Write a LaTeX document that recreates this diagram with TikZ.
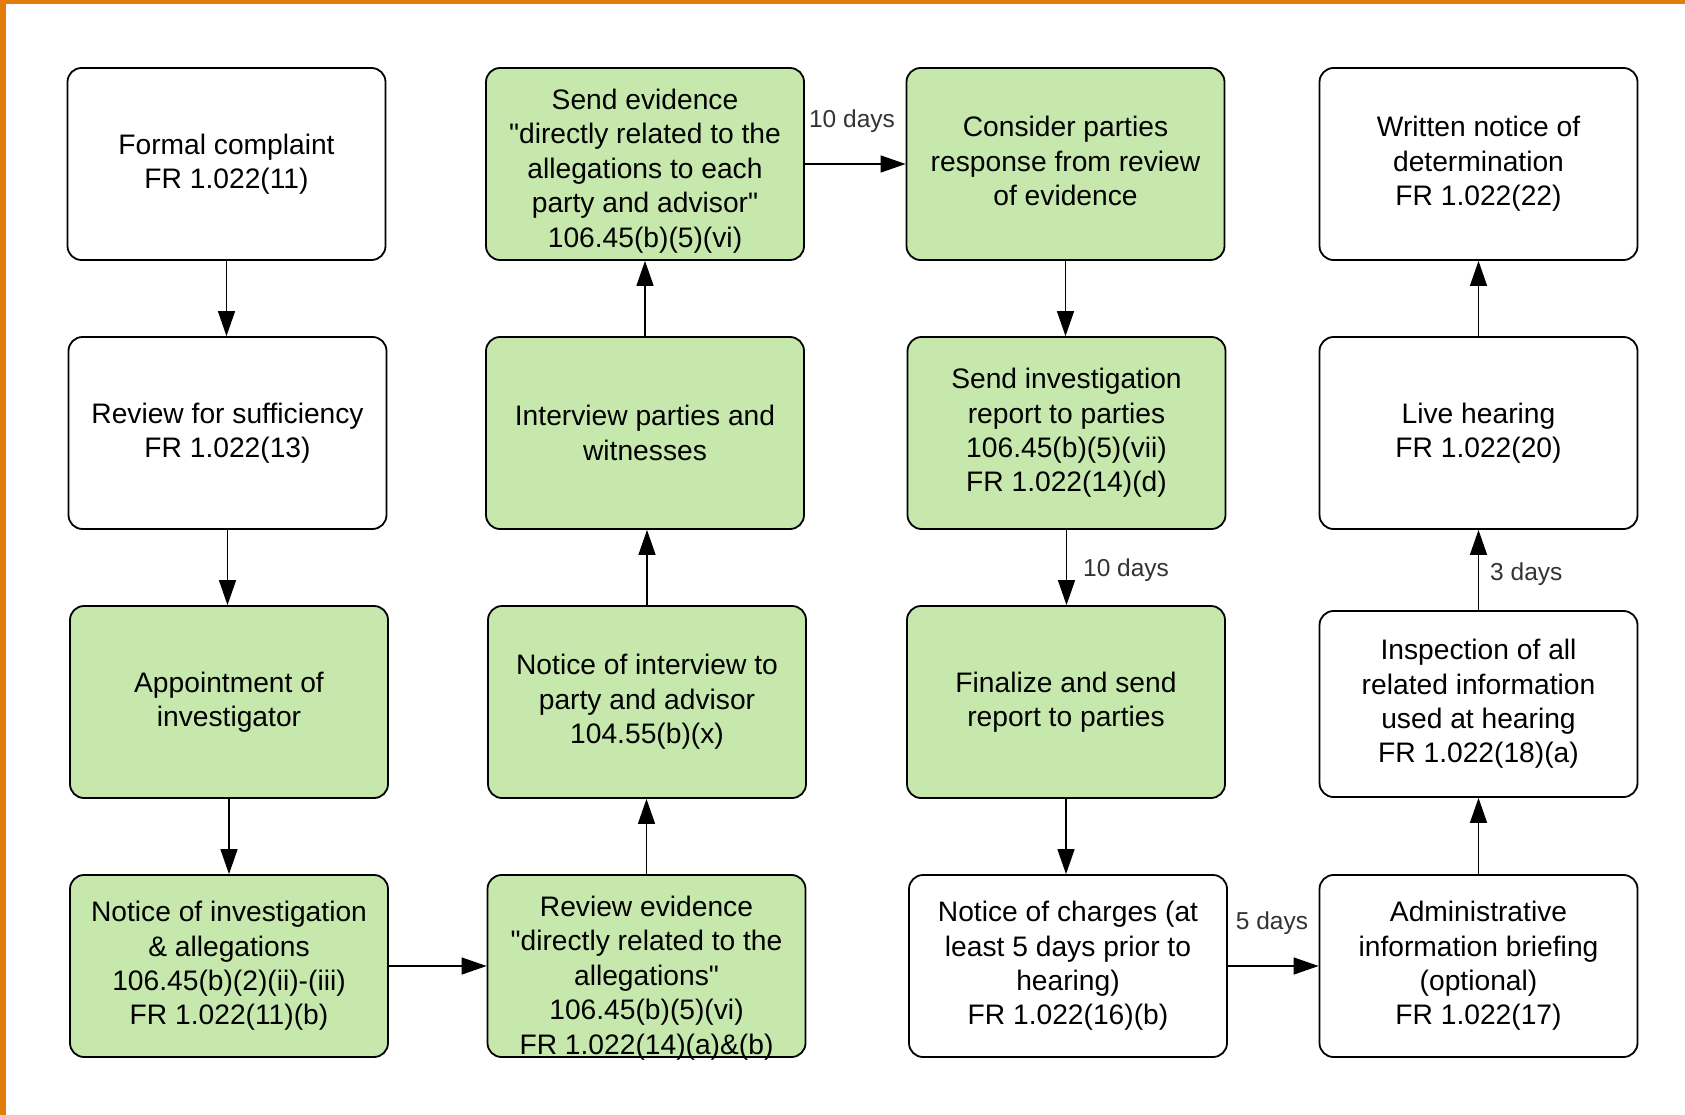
\documentclass[tikz,border=0pt]{standalone}
\usepackage{fontspec}
\setmainfont{Liberation Sans}[Ligatures=TeXOff]
\usetikzlibrary{arrows.meta}
\definecolor{boxgreen}{HTML}{C6E8AC}
\definecolor{frameorange}{HTML}{E27D0C}
\definecolor{lblgray}{HTML}{333333}
\tikzset{
  box/.style={draw=black, rounded corners=14pt, line width=1.8pt,
    minimum width=318pt, minimum height=192pt, align=center, inner sep=0pt,
    font=\fontsize{28.2}{34.4}\selectfont},
  gbox/.style={box, fill=boxgreen},
  wbox/.style={box, fill=white},
  txt/.style={align=center, inner sep=0pt, font=\fontsize{28.2}{34.4}\selectfont},
  conn/.style={line width=1.4pt, -{Triangle[length=25pt,width=17pt]}},
  lbl/.style={text=lblgray, font=\fontsize{24.5}{28}\selectfont, inner sep=0pt}
}
\begin{document}
\begin{tikzpicture}[x=1pt,y=-1pt]
\useasboundingbox (0,0) rectangle (1685,1115);
\fill[white] (0,0) rectangle (1685,1115);
\fill[frameorange] (0,0) rectangle (1685,4.5);
\fill[frameorange] (0,0) rectangle (5.5,1115);

% column 1
\node[wbox] (c1r1) at (226.5,164) {Formal complaint\\FR 1.022(11)};
\node[wbox] (c1r2) at (227.5,433) {Review for sufficiency\\FR 1.022(13)};
\node[gbox] (c1r3) at (229,702) {Appointment of\\investigator};
\node[gbox, minimum height=182pt] (c1r4) at (229,966) {Notice of investigation\\\& allegations\\106.45(b)(2)(ii)-(iii)\\FR 1.022(11)(b)};

% column 2
\node[gbox] (c2r1) at (645,164) {};
\node[txt, yshift=-7pt] (t2r1) at (c2r1) {Send evidence\\"directly related to the\\allegations to each\\party and advisor"\\106.45(b)(5)(vi)};
\node[gbox] (c2r2) at (645,433) {Interview parties and\\witnesses};
\node[gbox] (c2r3) at (647,702) {Notice of interview to\\party and advisor\\104.55(b)(x)};
\node[gbox, minimum height=182pt] (c2r4) at (646.5,966) {};
\node[txt, yshift=-12pt] (t2r4) at (c2r4) {Review evidence\\"directly related to the\\allegations"\\106.45(b)(5)(vi)\\FR 1.022(14)(a)\&(b)};

% column 3
\node[gbox] (c3r1) at (1065.5,164) {};
\node[txt, yshift=3pt] (t3r1) at (c3r1) {Consider parties\\response from review\\of evidence};
\node[gbox] (c3r2) at (1066.5,433) {Send investigation\\report to parties\\106.45(b)(5)(vii)\\FR 1.022(14)(d)};
\node[gbox] (c3r3) at (1066,702) {Finalize and send\\report to parties};
\node[wbox, minimum height=182pt] (c3r4) at (1068,966) {Notice of charges (at\\least 5 days prior to\\hearing)\\FR 1.022(16)(b)};

% column 4
\node[wbox] (c4r1) at (1478.5,164) {Written notice of\\determination\\FR 1.022(22)};
\node[wbox] (c4r2) at (1478.5,433) {Live hearing\\FR 1.022(20)};
\node[wbox, minimum height=186pt] (c4r3) at (1478.5,704) {Inspection of all\\related information\\used at hearing\\FR 1.022(18)(a)};
\node[wbox, minimum height=182pt] (c4r4) at (1478.5,966) {Administrative\\information briefing\\(optional)\\FR 1.022(17)};

% connectors column 1 (down)
\draw[conn] (c1r1.south) -- (c1r2.north -| c1r1.south);
\draw[conn] (c1r2.south) -- (c1r3.north -| c1r2.south);
\draw[conn] (c1r3.south) -- (c1r4.north -| c1r3.south);
% row 4 right
\draw[conn] (c1r4.east) -- (c2r4.west |- c1r4.east);
% column 2 (up)
\draw[conn] (c2r4.north) -- (c2r3.south -| c2r4.north);
\draw[conn] (c2r3.north) -- (c2r2.south -| c2r3.north);
\draw[conn] (c2r2.north) -- (c2r1.south -| c2r2.north);
% row 1 right
\draw[conn] (c2r1.east) -- (c3r1.west |- c2r1.east);
% column 3 (down)
\draw[conn] (c3r1.south) -- (c3r2.north -| c3r1.south);
\draw[conn] (c3r2.south) -- (c3r3.north -| c3r2.south);
\draw[conn] (c3r3.south) -- (c3r4.north -| c3r3.south);
% row 4 right
\draw[conn] (c3r4.east) -- (c4r4.west |- c3r4.east);
% column 4 (up)
\draw[conn] (c4r4.north) -- (c4r3.south -| c4r4.north);
\draw[conn] (c4r3.north) -- (c4r2.south -| c4r3.north);
\draw[conn] (c4r2.north) -- (c4r1.south -| c4r2.north);

% labels
\node[lbl] (l1) at (852,121) {10 days};
\node[lbl, anchor=west] (l2) at (1083,570) {10 days};
\node[lbl, anchor=west] (l3) at (1490,574) {3 days};
\node[lbl] (l4) at (1272,923) {5 days};
\end{tikzpicture}
\end{document}
